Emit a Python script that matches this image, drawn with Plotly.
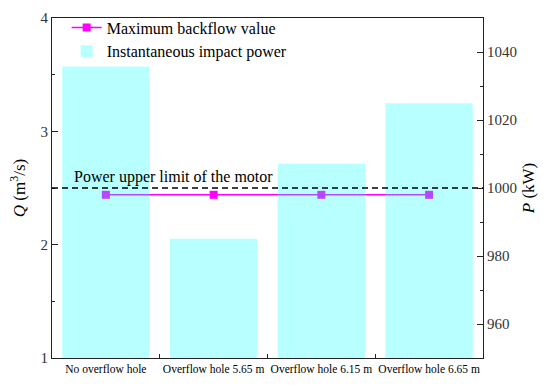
import plotly.graph_objects as go

categories = ["No overflow hole", "Overflow hole 5.65 m", "Overflow hole 6.15 m", "Overflow hole 6.65 m"]
backflow_q = [2.44, 2.44, 2.44, 2.44]
impact_power = [1035.7, 985.1, 1007.1, 1024.9]
power_limit = 1000
limit_label = "Power upper limit of the motor"

FONT = "Liberation Serif"

fig = go.Figure()
fig.add_trace(go.Scatter(
    x=categories, y=backflow_q, name="Maximum backflow value",
    mode="lines+markers", yaxis="y",
    line=dict(color="#ff00ff", width=1.5),
    marker=dict(symbol="square", size=8, color="#ff00ff", line=dict(width=0)),
))
fig.add_trace(go.Bar(
    x=categories, y=impact_power, name="Instantaneous impact power",
    yaxis="y2", marker=dict(color="rgba(0,255,255,0.28)", line=dict(width=0)),
))

fig.add_shape(type="line", xref="paper", x0=0, x1=1, yref="y2", y0=power_limit, y1=power_limit,
              line=dict(color="black", width=1.5, dash="6px,4px"), layer="above")
fig.add_annotation(xref="paper", x=0.046, yref="y2", y=power_limit, text=limit_label,
                   showarrow=False, xanchor="left", yanchor="bottom", yshift=0,
                   font=dict(family=FONT, size=16, color="black"))

axis_common = dict(showgrid=False, zeroline=False, showline=True, linecolor="#222", linewidth=1.2,
                   ticks="inside", tickcolor="#222", tickwidth=1.2, ticklen=6, automargin=False,
                   ticklabeloverflow="allow",
                   tickfont=dict(family=FONT, size=15, color="#333"))

fig.update_layout(
    width=550, height=386,
    margin=dict(l=52, r=67, t=11, b=28),
    plot_bgcolor="white", paper_bgcolor="white",
    font=dict(family=FONT, color="black"),
    bargap=0.19,
    showlegend=True,
    legend=dict(x=0.034, y=1.022, xanchor="left", yanchor="top", bgcolor="rgba(0,0,0,0)",
                font=dict(family=FONT, size=16, color="black"), tracegroupgap=0),
    xaxis=dict(showgrid=False, zeroline=False, showline=True, linecolor="#222", linewidth=1.2,
               mirror=True, ticks="inside", tickson="boundaries", ticklen=4, tickcolor="#222",
               tickangle=0, automargin=False,
               tickfont=dict(family=FONT, size=11.5, color="black")),
    yaxis=dict(range=[1, 4], dtick=1, tick0=1,
               minor=dict(dtick=0.5, ticks="inside", ticklen=3, tickcolor="#222", tickwidth=1.2),
               title=dict(text="<i>Q</i> (m<sup>3</sup>/s)", font=dict(family=FONT, size=17, color="black"), standoff=10),
               **axis_common),
    yaxis2=dict(range=[950, 1050], dtick=20, tick0=960, overlaying="y", side="right",
                minor=dict(dtick=10, ticks="inside", ticklen=3, tickcolor="#222", tickwidth=1.2),
                title=dict(text="<i>P</i> (kW)", font=dict(family=FONT, size=17, color="black"), standoff=6),
                **axis_common),
)

fig.write_html("out.html", config={"displayModeBar": False},
               post_script="document.body.style.margin='0';")
